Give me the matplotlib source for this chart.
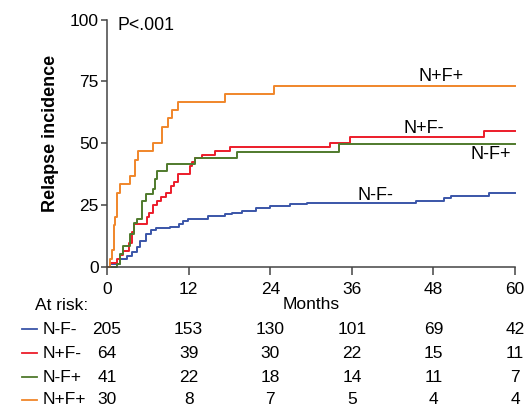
import matplotlib.pyplot as plt
from matplotlib.transforms import blended_transform_factory

plt.rcParams['font.family'] = ['Liberation Sans', 'DejaVu Sans']

# cumulative relapse incidence (%) - step times in months
t_nfm = [0, 0.4, 1.9, 2.9, 3.7, 4.4, 4.9, 5.7, 6.4, 7.2, 9.2, 10.6, 11.1, 11.9, 14.9,
         17.4, 18.4, 19.9, 21.9, 23.9, 26.9, 29.4, 45.4, 49.6, 50.6, 56.2]
y_nfm = [0, 1.1, 3.1, 4.4, 5.8, 7.8, 10.5, 13.2, 14.8, 15.5, 15.9, 17.2, 18.5, 19.2, 20.6,
         21.2, 21.9, 22.6, 23.9, 24.6, 25.3, 25.9, 26.6, 27.9, 28.6, 29.7]

t_npfm = [0, 0.4, 1.4, 1.9, 2.4, 3.2, 3.7, 3.9, 5.9, 6.2, 6.7, 7.4, 7.9, 8.6, 9.4, 9.9,
          10.4, 12.2, 12.5, 13.0, 14.0, 15.9, 18.1, 32.8, 35.7, 55.5]
y_npfm = [0, 1.6, 3.1, 4.7, 6.3, 9.4, 14.1, 17.2, 20.3, 21.9, 25.0, 26.6, 28.1, 29.7, 32.8,
          34.4, 37.5, 40.6, 42.2, 43.8, 45.3, 46.9, 48.4, 50.0, 52.3, 55.1]

t_nfp = [0, 1.4, 1.9, 2.4, 3.4, 3.9, 4.4, 5.2, 5.7, 6.7, 7.0, 7.4, 8.8, 13.0, 19.1, 34.1]
y_nfp = [0, 1.1, 5.1, 8.5, 13.2, 17.5, 19.2, 26.6, 29.3, 31.3, 35.4, 38.7, 41.4, 44.0, 46.5, 49.7]

t_npfp = [0, 0.4, 0.7, 0.95, 1.2, 1.45, 1.9, 3.4, 4.1, 4.6, 6.8, 8.1, 9.0, 9.5, 10.4, 17.4, 24.5]
y_npfp = [0, 3.3, 6.7, 16.7, 20.0, 30.0, 33.3, 36.7, 43.3, 46.7, 50.0, 56.7, 60.0, 63.3, 66.7,
          70.0, 73.3]

grupos = ['N-F-', 'N+F-', 'N-F+', 'N+F+']
cores = ['#3a55a8', '#ec1c2a', '#4f7a2c', '#f0862a']
meses = [0, 12, 24, 36, 48, 60]
em_risco = [[205, 153, 130, 101, 69, 42],
            [64, 39, 30, 22, 15, 11],
            [41, 22, 18, 14, 11, 7],
            [30, 8, 7, 5, 4, 4]]

fig = plt.figure(figsize=(5.25, 4.09), dpi=100)
ax = fig.add_axes([0.204, 0.348, 0.777, 0.604])

curvas = [(t_nfm, y_nfm), (t_npfm, y_npfm), (t_nfp, y_nfp), (t_npfp, y_npfp)]
for (t, y), cor in zip(curvas, cores):
    ax.step(t + [60], y + [y[-1]], where='post', color=cor, lw=1.4, clip_on=False)

ax.set_xlim(0, 60)
ax.set_ylim(0, 100)
ax.set_xticks(meses)
ax.set_yticks([0, 25, 50, 75, 100])
for s in ['top', 'right']:
    ax.spines[s].set_visible(False)
for s in ['left', 'bottom']:
    ax.spines[s].set_color('#444444')
    ax.spines[s].set_linewidth(1.1)
ax.tick_params(axis='x', length=6, width=1.1, color='#444444', labelsize=12.5, pad=5)
ax.tick_params(axis='y', length=4, width=1.1, color='#444444', labelsize=12.5, pad=2)
ax.set_xlabel('Months', fontsize=12.5, labelpad=0)

fig.text(51 / 525, 1 - 133 / 409, 'Relapse incidence', rotation=90, fontsize=13,
         fontweight='bold', ha='center', va='center')

# rotulos das curvas
ax.text(1.5, 97.5, 'P<.001', fontsize=12.8, ha='left', va='center')
ax.text(49.1, 77, 'N+F+', fontsize=13, ha='center', va='center')
ax.text(46.6, 56, 'N+F-', fontsize=13, ha='center', va='center')
ax.text(56.5, 45.4, 'N-F+', fontsize=13, ha='center', va='center')
ax.text(39.4, 29, 'N-F-', fontsize=13, ha='center', va='center')

# tabela de pacientes em risco
fig.text(35 / 525, 1 - 305 / 409, 'At risk:', fontsize=12.5, ha='left', va='center')
trans = blended_transform_factory(ax.transData, fig.transFigure)
linhas_y = [329, 353, 377, 400]
for grupo, cor, valores, ypx in zip(grupos, cores, em_risco, linhas_y):
    yf = 1 - ypx / 409
    fig.add_artist(plt.Line2D([22 / 525, 37 / 525], [yf, yf], color=cor, lw=1.3))
    fig.text(43 / 525, yf, grupo, fontsize=12.5, ha='left', va='center')
    for m, v in zip(meses, valores):
        ax.text(m, yf, str(v), transform=trans, fontsize=12.5, ha='center', va='center')

plt.savefig('out.png', dpi=100)
